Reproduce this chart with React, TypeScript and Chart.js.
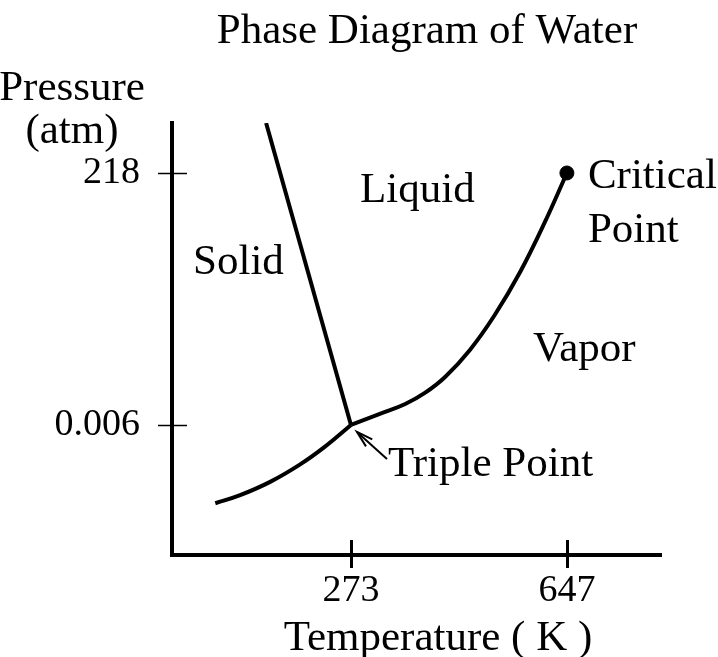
import React, { useEffect, useRef } from 'react';
import { Chart, registerables } from 'chart.js';

Chart.register(...registerables);

// ---- data (Temperature in K, Pressure in atm; schematic diagram) ----
const X_TICKS = [273, 647];
const X_TICK_LABELS = ['273', '647'];
const Y_TICKS = [0.006, 218];
const Y_TICK_LABELS = ['0.006', '218'];

const FUSION_T = [273, 126];
const FUSION_P = [0.006, 1750];

const SUBLIMATION_T = [38, 81, 133, 185, 228, 273];
const SUBLIMATION_P = [0.00023, 0.000322, 0.00056, 0.00116, 0.00243, 0.006];

const VAPOR_T = [273, 323, 367, 401, 436, 479, 522, 566, 609, 647];
const VAPOR_P = [0.006, 0.0095, 0.0144, 0.0228, 0.0443, 0.137, 0.587, 3.52, 28.3, 218];

const CRITICAL_T = [647];
const CRITICAL_P = [218];

const TRIPLE_T = 273;
const TRIPLE_P = 0.006;

const REGION_LABELS = [
  { text: 'Liquid', t: 288.6, p: 65 },
  { text: 'Solid', t: -0.6, p: 3.24 },
  { text: 'Critical', t: 683.4, p: 116.7 },
  { text: 'Point', t: 683.4, p: 12.3 },
  { text: 'Vapor', t: 588.1, p: 0.0864 },
  { text: 'Triple Point', t: 337.1, p: 0.000716 },
];

const TITLE = 'Phase Diagram of Water';
const Y_TITLE = ['Pressure', '(atm)'];
const X_TITLE = 'Temperature ( K )';

const FONT = '"Liberation Serif", "Times New Roman", Times, serif';

const zip = (xs: number[], ys: number[]) => xs.map((x, i) => ({ x, y: ys[i] }));

const decorPlugin = {
  id: 'decor',
  afterDraw(chart: any) {
    const ctx = chart.ctx as CanvasRenderingContext2D;
    const xs = chart.scales.x;
    const ys = chart.scales.y;
    const area = chart.chartArea;
    ctx.save();
    ctx.strokeStyle = '#000';
    ctx.fillStyle = '#000';

    // tick marks crossing the axes
    ctx.lineWidth = 1.5;
    for (const v of Y_TICKS) {
      const py = Math.round(ys.getPixelForValue(v)) + 0.5;
      ctx.beginPath();
      ctx.moveTo(area.left - 14, py);
      ctx.lineTo(area.left + 15, py);
      ctx.stroke();
    }
    ctx.lineWidth = 3;
    for (const v of X_TICKS) {
      const px = Math.round(xs.getPixelForValue(v)) + 0.5;
      ctx.beginPath();
      ctx.moveTo(px, area.bottom - 15);
      ctx.lineTo(px, area.bottom + 13);
      ctx.stroke();
    }
    // close the corner of the axes
    ctx.fillRect(area.left - 2, area.bottom - 2, 4, 4);

    // texts
    ctx.font = `43px ${FONT}`;
    ctx.textBaseline = 'alphabetic';
    ctx.textAlign = 'left';
    for (const l of REGION_LABELS) {
      ctx.fillText(l.text, xs.getPixelForValue(l.t), ys.getPixelForValue(l.p));
    }
    ctx.textAlign = 'center';
    ctx.fillText(TITLE, 427, 43);
    ctx.fillText(Y_TITLE[0], 72, 100);
    ctx.fillText(Y_TITLE[1], 72, 143);
    ctx.fillText(X_TITLE, 438, 650);

    // arrow to the triple point
    const tx = xs.getPixelForValue(TRIPLE_T) + 6;
    const ty = ys.getPixelForValue(TRIPLE_P) + 7;
    const ex = tx + 30;
    const ey = ty + 27;
    ctx.lineWidth = 2;
    ctx.beginPath();
    ctx.moveTo(ex, ey);
    ctx.lineTo(tx, ty);
    ctx.stroke();
    const ang = Math.atan2(ey - ty, ex - tx);
    const hl = 17;
    const spread = 0.28;
    ctx.beginPath();
    ctx.moveTo(tx + hl * Math.cos(ang - spread), ty + hl * Math.sin(ang - spread));
    ctx.lineTo(tx, ty);
    ctx.lineTo(tx + hl * Math.cos(ang + spread), ty + hl * Math.sin(ang + spread));
    ctx.stroke();
    ctx.restore();
  },
};

export default function App() {
  const ref = useRef<HTMLCanvasElement | null>(null);

  useEffect(() => {
    if (!ref.current) return;
    const lineStyle = {
      borderColor: '#000',
      borderWidth: 4,
      pointRadius: 0,
      fill: false,
      tension: 0.4,
    };
    const chart = new Chart(ref.current, {
      type: 'line',
      data: {
        datasets: [
          { ...lineStyle, label: 'Fusion', data: zip(FUSION_T, FUSION_P), tension: 0 },
          { ...lineStyle, label: 'Sublimation', data: zip(SUBLIMATION_T, SUBLIMATION_P) },
          { ...lineStyle, label: 'Vaporization', data: zip(VAPOR_T, VAPOR_P) },
          {
            label: 'Critical Point',
            data: zip(CRITICAL_T, CRITICAL_P),
            showLine: false,
            pointRadius: 7,
            pointBorderWidth: 1,
            pointBackgroundColor: '#000',
            pointBorderColor: '#000',
            borderColor: '#000',
            backgroundColor: '#000',
          },
        ],
      },
      options: {
        animation: false,
        responsive: false,
        events: [],
        layout: { padding: { top: 123, right: 57, left: 0, bottom: 0 } },
        plugins: {
          legend: { display: false },
          title: { display: false },
          tooltip: { enabled: false },
        },
        scales: {
          x: {
            type: 'linear',
            min: -37,
            max: 810,
            grid: { display: false, drawTicks: false },
            border: { display: true, color: '#000', width: 4 },
            afterBuildTicks: (s: any) => {
              s.ticks = X_TICKS.map((v) => ({ value: v }));
            },
            afterFit: (s: any) => {
              s.height = 102;
            },
            ticks: {
              color: '#000',
              font: { family: FONT, size: 38 },
              padding: 13,
              maxRotation: 0,
              autoSkip: false,
              callback: (_v: any, i: number) => X_TICK_LABELS[i],
            },
          },
          y: {
            type: 'logarithmic',
            min: 2.66e-5,
            max: 1750,
            grid: { display: false, drawTicks: false },
            border: { display: true, color: '#000', width: 4 },
            afterBuildTicks: (s: any) => {
              s.ticks = Y_TICKS.map((v) => ({ value: v }));
            },
            afterFit: (s: any) => {
              s.width = 172;
            },
            ticks: {
              color: '#000',
              font: { family: FONT, size: 38 },
              padding: 32,
              autoSkip: false,
              callback: (_v: any, i: number) => Y_TICK_LABELS[i],
            },
          },
        },
      },
      plugins: [decorPlugin],
    });
    return () => chart.destroy();
  }, []);

  return (
    <div style={{ position: 'absolute', left: 0, top: 0, width: 718, height: 657, background: '#fff' }}>
      <canvas ref={ref} width={718} height={657} style={{ display: 'block', width: 718, height: 657 }} />
    </div>
  );
}
